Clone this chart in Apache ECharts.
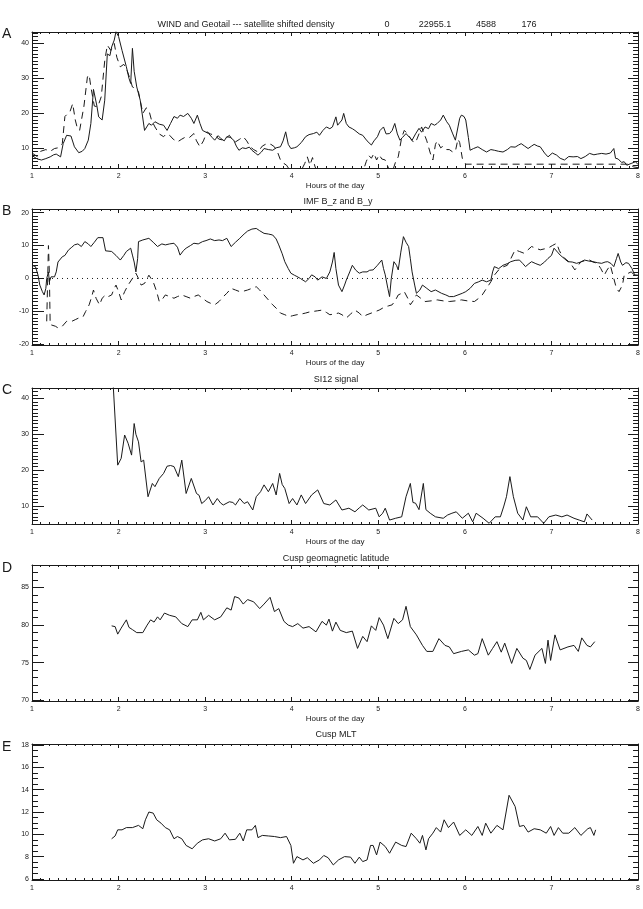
<!DOCTYPE html>
<html>
<head>
<meta charset="utf-8">
<script src="https://cdn.jsdelivr.net/npm/echarts@6/dist/echarts.min.js"></script>
<style>
html, body { margin: 0; padding: 0; background: #fff; }
#chart { width: 643px; height: 909px; }
</style>
</head>
<body>
<div id="chart"></div>
<script>
// Panel A: density (solid) and satellite shifted density (dashed), [hour, value]
const densitySolid = [
    [1.00, 7.8], [1.02, 7.4], [1.06, 6.8], [1.11, 6.5], [1.16, 6.9], [1.21, 7.4], [1.25, 8.0], [1.28, 8.2],
    [1.33, 7.4], [1.36, 11.2], [1.40, 13.6], [1.45, 13.4], [1.49, 10.3], [1.54, 8.6], [1.58, 9.0], [1.61, 9.8],
    [1.65, 12.2], [1.68, 17], [1.71, 26.8], [1.73, 26.5], [1.75, 22], [1.77, 18.9], [1.81, 18], [1.84, 23.7],
    [1.87, 37], [1.90, 36.5], [1.92, 39], [1.95, 41], [1.97, 43.4], [2.00, 42], [2.04, 38], [2.09, 33.3],
    [2.12, 30], [2.14, 28.5], [2.16, 38.6], [2.18, 32], [2.21, 27.5], [2.25, 23.7], [2.30, 15], [2.35, 17],
    [2.38, 16.5], [2.42, 17.5], [2.47, 16.8], [2.52, 16.5], [2.56, 15], [2.60, 17], [2.64, 19], [2.68, 18.5],
    [2.71, 19.4], [2.75, 19], [2.80, 19.9], [2.84, 18.5], [2.87, 17], [2.91, 19.4], [2.94, 17], [2.97, 15],
    [3.04, 14.1], [3.08, 13], [3.11, 12.2], [3.15, 13.5], [3.18, 12.7], [3.22, 12], [3.25, 13.2], [3.29, 13],
    [3.33, 12.2], [3.36, 10.5], [3.39, 9.3], [3.43, 10], [3.47, 9.8], [3.51, 10.2], [3.54, 9.3], [3.58, 8.5],
    [3.61, 7.9], [3.65, 8.8], [3.68, 9.8], [3.73, 9.5], [3.78, 9.3], [3.82, 10], [3.87, 10.3], [3.90, 12],
    [3.93, 14.6], [3.96, 11], [3.99, 9.8], [4.03, 10], [4.06, 10.3], [4.11, 11.5], [4.16, 13.2], [4.20, 13.8],
    [4.25, 14.1], [4.29, 14.5], [4.32, 13.6], [4.36, 15], [4.40, 16], [4.44, 15.5], [4.47, 16], [4.51, 18.9],
    [4.53, 16.5], [4.55, 16], [4.58, 18], [4.60, 19.9], [4.63, 17], [4.66, 16], [4.70, 15.5], [4.73, 15],
    [4.78, 14], [4.82, 13.6], [4.87, 12], [4.92, 10.8], [4.95, 12], [4.99, 13.2], [5.02, 15], [5.06, 16],
    [5.09, 14], [5.13, 14.1], [5.16, 15], [5.19, 17], [5.22, 14], [5.25, 12.2], [5.28, 13], [5.32, 14.1],
    [5.36, 13], [5.39, 12.2], [5.43, 14], [5.47, 15.6], [5.50, 14.5], [5.54, 16], [5.58, 15.5], [5.61, 17],
    [5.65, 16.5], [5.68, 17], [5.72, 18], [5.75, 19.4], [5.79, 17.5], [5.82, 16.5], [5.86, 14], [5.89, 12.2],
    [5.92, 16], [5.94, 18.5], [5.96, 19.4], [5.99, 19], [6.01, 18], [6.04, 13], [6.06, 9.3], [6.10, 9.8],
    [6.15, 10.3], [6.20, 9.5], [6.25, 8.8], [6.30, 9.5], [6.34, 9.3], [6.39, 9], [6.44, 8.8], [6.49, 9.5],
    [6.53, 10.3], [6.58, 10.2], [6.62, 10.8], [6.65, 11.2], [6.69, 10.5], [6.73, 9.8], [6.77, 10.5], [6.80, 11],
    [6.84, 10.5], [6.87, 10.3], [6.92, 8.5], [6.96, 7.4], [7.01, 8.5], [7.06, 7.9], [7.10, 7], [7.15, 6.5],
    [7.20, 7.5], [7.25, 7.4], [7.30, 7.5], [7.34, 6.9], [7.39, 7.5], [7.44, 8.4], [7.49, 8], [7.53, 8.2],
    [7.58, 8.4], [7.63, 8.2], [7.68, 8.5], [7.72, 9.8], [7.74, 7], [7.77, 6.8], [7.81, 5.8], [7.84, 6],
    [7.87, 5], [7.89, 4.5], [7.92, 5.5], [7.94, 5.8], [7.97, 6], [8.00, 5.2]
];
const densityDashed = [
    [1.00, 8.5], [1.02, 8.8], [1.06, 7.5], [1.10, 9], [1.16, 9.5], [1.21, 9], [1.26, 9.8], [1.30, 10],
    [1.35, 11.2], [1.38, 19], [1.40, 19.4], [1.44, 20.5], [1.47, 22.7], [1.50, 18], [1.52, 16], [1.55, 15],
    [1.57, 15], [1.60, 22], [1.64, 30.4], [1.66, 31], [1.68, 27.5], [1.72, 22], [1.76, 21.8], [1.80, 24.7],
    [1.84, 35], [1.87, 39.5], [1.91, 38], [1.95, 40], [1.98, 36], [2.02, 33.3], [2.06, 34], [2.09, 32.8],
    [2.13, 30], [2.16, 27.5], [2.20, 27], [2.23, 26.1], [2.28, 19.9], [2.32, 21.5], [2.35, 20.8], [2.38, 18],
    [2.42, 16], [2.47, 14], [2.52, 13.2], [2.55, 14], [2.59, 13.6], [2.63, 12.5], [2.68, 11.7], [2.73, 12.5],
    [2.78, 13.2], [2.82, 13], [2.87, 14.1], [2.90, 12], [2.94, 10.3], [2.98, 12], [3.02, 14.6], [3.06, 14],
    [3.11, 13.6], [3.16, 12.5], [3.21, 12.2], [3.25, 13], [3.28, 13.6], [3.31, 12.5], [3.35, 11.7], [3.40, 12.5],
    [3.44, 13.2], [3.48, 12], [3.52, 10.3], [3.56, 9.5], [3.61, 8.8], [3.66, 10.5], [3.71, 11.2], [3.76, 11],
    [3.80, 10.3], [3.84, 8.5], [3.87, 6.5], [3.91, 5.5], [3.94, 5], [3.98, 3.5], [4.05, 3], [4.11, 3.5],
    [4.15, 5.5], [4.18, 7.4], [4.21, 5], [4.24, 7.2], [4.27, 4.5], [4.30, 3], [4.40, 3], [4.55, 3],
    [4.70, 3], [4.82, 3], [4.86, 6], [4.89, 7.8], [4.92, 7], [4.95, 8.4], [4.98, 6.5], [5.01, 8],
    [5.04, 6.8], [5.08, 6.5], [5.12, 4], [5.16, 3], [5.20, 6], [5.23, 7.4], [5.27, 13], [5.30, 15],
    [5.34, 14], [5.39, 12], [5.43, 11.5], [5.47, 14], [5.50, 16], [5.53, 14], [5.56, 12], [5.60, 8.5],
    [5.63, 6.5], [5.66, 11], [5.68, 12], [5.72, 10], [5.75, 10.5], [5.79, 9.5], [5.82, 9.5], [5.86, 8.8],
    [5.89, 9], [5.92, 12.5], [5.94, 11.5], [5.97, 7], [6.01, 5.3], [6.50, 5.3], [7.00, 5.3], [7.50, 5.3],
    [7.90, 5.3], [7.95, 4.5], [8.00, 4.3]
];

// Panel B: IMF B_z (solid) and B_y (dashed)
const imfBz = [
    [1.00, 4], [1.04, 3.6], [1.07, 1], [1.09, -2], [1.12, -4], [1.14, -5], [1.16, -3], [1.17, 0],
    [1.19, 2], [1.20, -1], [1.22, 0.5], [1.26, 0.5], [1.28, 2], [1.30, 5], [1.35, 6.6], [1.38, 7],
    [1.42, 8.6], [1.46, 9.5], [1.49, 10.2], [1.53, 10.5], [1.57, 9.7], [1.61, 11.2], [1.65, 10.5], [1.68, 9.7],
    [1.72, 11], [1.76, 12.4], [1.82, 12.4], [1.85, 8.4], [1.92, 8.2], [1.97, 7], [2.02, 5.6], [2.06, 7],
    [2.09, 8.2], [2.14, 9.2], [2.16, 7.1], [2.18, 5], [2.20, 2], [2.22, 6], [2.23, 11.2], [2.28, 11.7],
    [2.35, 12.2], [2.40, 11], [2.45, 9.7], [2.50, 10.5], [2.54, 10.2], [2.59, 10.5], [2.64, 10.7], [2.68, 9.5],
    [2.71, 7.1], [2.75, 8.5], [2.78, 9.2], [2.83, 10], [2.87, 10.7], [2.92, 10.5], [2.97, 11.2], [3.01, 11.5],
    [3.06, 12], [3.11, 11.5], [3.16, 11.7], [3.20, 11.5], [3.25, 12.2], [3.30, 9.7], [3.35, 11], [3.40, 12.2],
    [3.45, 13.5], [3.49, 14.4], [3.54, 15], [3.59, 15.2], [3.63, 14.5], [3.68, 13.7], [3.73, 13.5], [3.78, 13.2],
    [3.82, 12], [3.85, 10.2], [3.89, 7.5], [3.92, 5.1], [3.96, 3], [3.99, 1.6], [4.03, 1], [4.06, 0.6],
    [4.10, 0], [4.13, -0.5], [4.16, -1], [4.20, 0], [4.23, 1.1], [4.27, 0.5], [4.30, -0.5], [4.35, 0.5],
    [4.40, 0], [4.44, 2], [4.47, 5], [4.49, 7.9], [4.51, 3], [4.54, -2], [4.58, -4], [4.61, -2],
    [4.63, -0.5], [4.67, 2], [4.70, 4], [4.74, 2.5], [4.78, 1.6], [4.82, 2], [4.87, 2], [4.90, 2.5],
    [4.94, 2.6], [4.99, 4], [5.04, 5.6], [5.06, 3], [5.08, 1.1], [5.11, -3], [5.13, -5.5], [5.15, 0],
    [5.18, 5.1], [5.21, 4], [5.23, 2.6], [5.26, 8], [5.29, 12.7], [5.32, 11], [5.35, 9.7], [5.37, 6],
    [5.39, 2], [5.42, -2], [5.44, -4.5], [5.48, -3.5], [5.51, -2], [5.56, -3], [5.61, -4], [5.66, -3.5],
    [5.73, -4.5], [5.78, -5], [5.82, -5.5], [5.87, -5.5], [5.92, -5], [5.97, -4.5], [6.01, -4], [6.06, -3],
    [6.11, -1.5], [6.16, -1], [6.20, -0.5], [6.25, -1], [6.30, -0.5], [6.32, 2], [6.34, 3.6], [6.39, 3],
    [6.44, 4], [6.49, 4.5], [6.53, 5.1], [6.58, 5.5], [6.63, 5.6], [6.67, 4.5], [6.70, 3.6], [6.74, 4.5],
    [6.77, 5.1], [6.82, 4.5], [6.87, 4], [6.92, 5], [6.96, 6.1], [7.00, 7], [7.03, 9.2], [7.07, 8],
    [7.10, 7.1], [7.15, 6], [7.19, 5.1], [7.24, 5], [7.29, 4.6], [7.34, 5], [7.38, 5.6], [7.43, 5.3],
    [7.48, 5.1], [7.53, 4.8], [7.58, 4.6], [7.62, 5], [7.65, 5.1], [7.69, 4.5], [7.72, 3.6], [7.75, 6],
    [7.77, 7.6], [7.80, 5], [7.82, 4], [7.86, 4.8], [7.89, 4.6], [7.93, 3], [7.96, 1.1], [8.00, 1]
];
const imfBy = [
    [1.17, -13], [1.19, 10], [1.20, 2], [1.21, -14], [1.23, -13.5], [1.27, -14.5], [1.30, -15], [1.35, -14.5],
    [1.40, -13], [1.42, -12.6], [1.46, -13], [1.50, -12.5], [1.54, -12], [1.59, -11.6], [1.62, -10], [1.66, -8],
    [1.69, -5.5], [1.71, -3.5], [1.74, -6], [1.78, -8], [1.81, -6], [1.85, -5], [1.88, -5.5], [1.92, -5],
    [1.95, -3], [1.97, -2], [2.00, -4], [2.03, -6.5], [2.07, -4], [2.11, -2], [2.16, 0], [2.20, 1.6],
    [2.23, 0], [2.26, -2], [2.30, -1.5], [2.35, 1], [2.40, -1], [2.44, -4], [2.47, -7], [2.50, -6.5],
    [2.54, -5], [2.59, -5.5], [2.64, -6], [2.68, -5.5], [2.73, -5], [2.78, -5.5], [2.83, -6], [2.87, -5.5],
    [2.92, -5], [2.97, -6], [3.02, -7], [3.06, -7.5], [3.11, -8], [3.16, -7], [3.21, -5.5], [3.25, -4.5],
    [3.30, -3], [3.35, -3.5], [3.40, -4], [3.45, -3.8], [3.49, -3.5], [3.54, -3], [3.59, -2.5], [3.63, -3.5],
    [3.68, -5], [3.73, -6.5], [3.78, -8], [3.82, -9], [3.87, -10.5], [3.92, -11], [3.97, -11.6], [4.01, -11.3],
    [4.06, -11], [4.11, -10.8], [4.16, -10.5], [4.20, -10.2], [4.25, -10], [4.30, -9.8], [4.35, -9.6], [4.40, -10.3],
    [4.44, -11], [4.49, -10.8], [4.54, -10.5], [4.58, -11], [4.63, -12], [4.68, -10.8], [4.73, -9.6], [4.78, -10.5],
    [4.82, -11.6], [4.87, -11], [4.92, -10.5], [4.97, -10], [5.01, -9.6], [5.05, -9], [5.08, -8.6], [5.12, -8.3],
    [5.16, -8], [5.20, -6.5], [5.23, -5], [5.27, -4.5], [5.30, -4], [5.34, -6], [5.37, -8], [5.41, -6.5],
    [5.44, -5], [5.49, -6], [5.54, -7], [5.61, -6.8], [5.68, -6.5], [5.75, -6.8], [5.82, -7], [5.89, -6.8],
    [5.96, -6.5], [6.03, -6.8], [6.11, -7], [6.16, -6], [6.20, -5], [6.25, -3], [6.30, -1], [6.34, 1],
    [6.39, 2.6], [6.44, 3.5], [6.49, 4], [6.53, 6], [6.58, 8.7], [6.63, 8.2], [6.68, 7.7], [6.72, 8.5],
    [6.77, 9.7], [6.82, 9.2], [6.87, 8.7], [6.92, 9], [6.96, 9.2], [7.01, 10], [7.06, 10.7], [7.09, 8.5],
    [7.13, 6.6], [7.17, 5.8], [7.20, 5.1], [7.24, 3.8], [7.27, 2.6], [7.31, 4], [7.34, 5.1], [7.39, 5.4],
    [7.44, 5.6], [7.48, 5], [7.53, 4.6], [7.57, 3], [7.61, 1], [7.64, 2.5], [7.68, 4], [7.72, 0],
    [7.75, -3], [7.78, -4], [7.80, -4.5], [7.82, -2], [7.84, 1], [7.88, 1.5], [7.92, 2], [7.96, 1],
    [8.00, 0]
];

// Panel C: SI12 signal
const si12Signal = [
    [1.90, 60], [1.99, 21.4], [2.03, 23.3], [2.07, 29.8], [2.11, 27.5], [2.15, 24.2], [2.18, 33], [2.20, 30],
    [2.23, 27.9], [2.26, 22.3], [2.29, 22.8], [2.34, 12.6], [2.39, 16.3], [2.42, 15.4], [2.47, 17.7], [2.52, 19.1],
    [2.56, 21.1], [2.60, 21.3], [2.64, 21], [2.69, 18.2], [2.73, 22.8], [2.78, 13.5], [2.84, 17.7], [2.90, 13.5],
    [2.93, 13], [2.96, 10.7], [3.00, 11.5], [3.04, 12.6], [3.09, 10.3], [3.14, 12.1], [3.18, 10.8], [3.21, 10.3],
    [3.28, 11.2], [3.32, 11], [3.35, 10.3], [3.40, 12.1], [3.45, 10.7], [3.49, 11.2], [3.55, 8.9], [3.59, 12.6],
    [3.64, 14], [3.68, 15.9], [3.73, 14], [3.78, 16.3], [3.82, 13.1], [3.86, 19.1], [3.89, 16], [3.92, 14.9],
    [3.97, 10.7], [4.01, 12.1], [4.06, 10.3], [4.11, 13.1], [4.16, 10.7], [4.23, 13.1], [4.30, 14.5], [4.37, 10.7],
    [4.44, 10.3], [4.51, 11.7], [4.58, 8.9], [4.66, 9.4], [4.73, 8.4], [4.78, 9.5], [4.82, 10.3], [4.89, 8.9],
    [4.97, 9.4], [5.01, 7], [5.05, 8], [5.08, 9.4], [5.13, 6.1], [5.20, 6.6], [5.27, 7], [5.32, 12.6],
    [5.37, 16.3], [5.40, 11], [5.43, 10.8], [5.47, 9.0], [5.49, 9.5], [5.52, 16.3], [5.55, 9], [5.60, 8],
    [5.66, 7], [5.75, 6.6], [5.80, 7.5], [5.85, 8], [5.90, 8.4], [5.97, 6.6], [6.04, 8], [6.09, 5.6],
    [6.13, 8], [6.21, 6.6], [6.28, 5.2], [6.35, 7], [6.41, 7], [6.45, 10], [6.48, 12.6], [6.52, 18.2],
    [6.56, 12.6], [6.61, 8], [6.67, 6.1], [6.71, 9.8], [6.76, 7], [6.84, 7], [6.91, 5.2], [6.97, 7],
    [7.05, 7.5], [7.12, 7], [7.18, 7.5], [7.26, 6.6], [7.32, 6.1], [7.38, 5.6], [7.41, 7.8], [7.47, 6.1]
];

// Panel D: cusp geomagnetic latitude
const cuspLatitude = [
    [1.92, 79.9], [1.96, 79.8], [1.99, 78.8], [2.03, 79.6], [2.09, 80.7], [2.12, 79.7], [2.16, 79.4], [2.21, 79],
    [2.28, 79], [2.33, 80], [2.37, 80.7], [2.41, 80.4], [2.45, 81.1], [2.48, 80.7], [2.53, 81.6], [2.59, 81.3],
    [2.66, 81.1], [2.73, 80.2], [2.80, 79.8], [2.85, 80.7], [2.91, 80.7], [2.95, 81.7], [2.98, 80.7], [3.04, 81.3],
    [3.11, 80.7], [3.18, 81.1], [3.25, 82.3], [3.30, 82], [3.34, 83.8], [3.39, 83.6], [3.44, 82.8], [3.49, 83.4],
    [3.56, 83.1], [3.63, 82.2], [3.68, 82.8], [3.75, 83.7], [3.80, 81.8], [3.85, 82.2], [3.91, 80.5], [3.96, 80],
    [4.01, 79.8], [4.07, 80.2], [4.13, 79.6], [4.20, 79.8], [4.28, 79.1], [4.35, 80.5], [4.40, 80], [4.43, 80.8],
    [4.47, 79.2], [4.51, 80.4], [4.56, 79.3], [4.63, 79], [4.70, 79.2], [4.76, 76.9], [4.82, 78.5], [4.87, 77.8],
    [4.92, 79.9], [4.97, 79.3], [5.01, 81], [5.06, 80], [5.11, 78.2], [5.18, 80.9], [5.23, 80.2], [5.28, 80.7],
    [5.32, 82.5], [5.37, 79.8], [5.44, 78.7], [5.51, 77.3], [5.56, 76.5], [5.63, 76.5], [5.70, 78.2], [5.77, 77.3],
    [5.82, 77.1], [5.87, 76.2], [5.96, 76.5], [6.04, 76.7], [6.11, 76], [6.15, 76.2], [6.20, 78.2], [6.27, 76],
    [6.32, 76.9], [6.37, 77.8], [6.42, 76.4], [6.46, 77.6], [6.54, 74.9], [6.60, 76.9], [6.67, 75.6], [6.71, 75.3],
    [6.75, 74.1], [6.81, 76], [6.89, 76.9], [6.93, 74.9], [6.96, 78], [6.99, 75.3], [7.04, 78.7], [7.10, 76.7],
    [7.19, 77.1], [7.26, 77.3], [7.31, 76.5], [7.35, 78.3], [7.41, 77.3], [7.45, 77.1], [7.50, 77.8]
];

// Panel E: cusp MLT
const cuspMlt = [
    [1.92, 9.6], [1.96, 9.85], [1.99, 10.4], [2.04, 10.4], [2.09, 10.6], [2.16, 10.6], [2.23, 10.8], [2.28, 10.5],
    [2.31, 11.3], [2.35, 12], [2.40, 11.9], [2.44, 11.3], [2.49, 11], [2.54, 10.6], [2.59, 10.4], [2.64, 9.6],
    [2.68, 9.8], [2.73, 9.6], [2.78, 9], [2.85, 8.7], [2.91, 9.2], [2.97, 9.5], [3.04, 9.6], [3.11, 9.4],
    [3.18, 9.6], [3.23, 10.1], [3.28, 9.5], [3.35, 9.55], [3.40, 10.1], [3.44, 9.4], [3.48, 10.4], [3.54, 10.4],
    [3.58, 10.8], [3.61, 9.7], [3.66, 9.9], [3.73, 9.85], [3.80, 9.8], [3.87, 9.7], [3.94, 9.8], [3.99, 9],
    [4.02, 7.4], [4.06, 8], [4.13, 7.7], [4.18, 7.9], [4.25, 7.4], [4.32, 7.7], [4.37, 8.1], [4.42, 7.9],
    [4.48, 7.25], [4.54, 7.7], [4.61, 8], [4.68, 7.95], [4.73, 7.4], [4.78, 7.95], [4.82, 7.55], [4.87, 7.7],
    [4.91, 9], [4.94, 9], [4.98, 8.15], [5.02, 9.3], [5.08, 8.9], [5.13, 8.3], [5.20, 9.3], [5.27, 9],
    [5.32, 8.9], [5.38, 10.1], [5.44, 9.6], [5.48, 9.2], [5.51, 9.9], [5.55, 8.6], [5.58, 9.6], [5.63, 10.1],
    [5.67, 10.6], [5.72, 10.2], [5.76, 11.3], [5.81, 10.6], [5.87, 11.1], [5.94, 9.9], [6.01, 10.4], [6.08, 9.9],
    [6.15, 10.7], [6.20, 9.9], [6.24, 11], [6.30, 10.1], [6.37, 10.8], [6.44, 10.4], [6.51, 13.5], [6.58, 12.5],
    [6.63, 10.7], [6.68, 10.8], [6.73, 10.2], [6.80, 10.5], [6.87, 10.4], [6.94, 10.1], [6.99, 10.7], [7.03, 9.9],
    [7.08, 10.6], [7.13, 10.1], [7.20, 10.1], [7.27, 10.6], [7.34, 9.9], [7.42, 10.5], [7.45, 10.6], [7.49, 9.9],
    [7.51, 10.4]
];

const hourLabels = [1, 2, 3, 4, 5, 6, 7, 8];

// layout of the five stacked panels
const panels = [
    { top: 32, min: 4.2, max: 43.3, labels: [10, 20, 30, 40], minorStep: 1, xName: 'Hours of the day' },
    { top: 209, min: -20.2, max: 21.1, labels: [-20, -10, 0, 10, 20], minorStep: 1, xName: 'Hours of the day' },
    { top: 388, min: 5, max: 42.9, labels: [10, 20, 30, 40], minorStep: 1, xName: 'Hours of the day' },
    { top: 565, min: 69.9, max: 88, labels: [70, 75, 80, 85], minorStep: 1, xName: 'Hours of the day' },
    { top: 744, min: 5.9, max: 18.1, labels: [6, 8, 10, 12, 14, 16, 18], minorStep: 0.5, xName: '' }
];

const ink = '#1a1a1a';
const font = 'Liberation Sans, DejaVu Sans, sans-serif';

function tickList(p) {
    const list = [];
    for (let v = Math.ceil(p.min / p.minorStep) * p.minorStep; v <= p.max + 1e-9; v += p.minorStep) {
        list.push(Math.round(v * 100) / 100);
    }
    return list;
}

const grids = [];
const xAxes = [];
const yAxes = [];

panels.forEach((p, i) => {
    grids.push({ left: 32, right: 4, top: p.top, height: 136 });
    const xBase = {
        type: 'value',
        gridIndex: i,
        min: 1,
        max: 8,
        interval: 1,
        splitLine: { show: false },
        axisLine: { onZero: false, lineStyle: { color: ink, width: 1 } },
        axisTick: { inside: true, length: 4, lineStyle: { color: ink } },
        minorTick: { show: true, splitNumber: 10, length: 2, lineStyle: { color: ink } }
    };
    xAxes.push(Object.assign({}, xBase, {
        position: 'bottom',
        name: p.xName,
        nameLocation: 'middle',
        nameGap: 14,
        nameTextStyle: { fontSize: 8, color: ink, fontFamily: font },
        axisLabel: {
            fontSize: 7,
            color: ink,
            margin: 5,
            fontFamily: font,
            customValues: hourLabels
        }
    }));
    xAxes.push(Object.assign({}, xBase, {
        position: 'top',
        axisLabel: { show: false }
    }));

    const minors = tickList(p);
    const yBase = {
        type: 'value',
        gridIndex: i,
        min: p.min,
        max: p.max,
        splitLine: { show: false }
    };
    // left: labelled major ticks
    yAxes.push(Object.assign({}, yBase, {
        position: 'left',
        axisLine: { show: true, onZero: false, lineStyle: { color: ink, width: 1 } },
        axisTick: { show: true, inside: true, length: 12, customValues: p.labels, lineStyle: { color: ink } },
        axisLabel: { fontSize: 7, color: ink, margin: 3, fontFamily: font, customValues: p.labels }
    }));
    // left: minor ticks
    yAxes.push(Object.assign({}, yBase, {
        position: 'left',
        axisLine: { show: false, onZero: false },
        axisTick: { show: true, inside: true, length: 6, customValues: minors, lineStyle: { color: ink } },
        axisLabel: { show: false }
    }));
    // right: major ticks
    yAxes.push(Object.assign({}, yBase, {
        position: 'right',
        axisLine: { show: true, onZero: false, lineStyle: { color: ink, width: 1 } },
        axisTick: { show: true, inside: true, length: 10, customValues: p.labels, lineStyle: { color: ink } },
        axisLabel: { show: false }
    }));
    // right: minor ticks
    yAxes.push(Object.assign({}, yBase, {
        position: 'right',
        axisLine: { show: false, onZero: false },
        axisTick: { show: true, inside: true, length: 5, customValues: minors, lineStyle: { color: ink } },
        axisLabel: { show: false }
    }));
});

function lineSeries(name, panel, data, dash) {
    return {
        name: name,
        type: 'line',
        xAxisIndex: panel * 2,
        yAxisIndex: panel * 4,
        data: data,
        showSymbol: false,
        symbol: 'none',
        lineStyle: { color: ink, width: 1, type: dash || 'solid' },
        emphasis: { disabled: true }
    };
}

// dotted zero level of panel B, spanning the hour axis
const zeroLevel = [[hourLabels[0], 0], [hourLabels[hourLabels.length - 1], 0]];

function text(str, x, y, size, align) {
    return {
        type: 'text',
        x: x,
        y: y,
        style: {
            text: str,
            fill: ink,
            font: size + 'px ' + font,
            textAlign: align || 'center',
            textVerticalAlign: 'middle'
        }
    };
}

const chart = echarts.init(document.getElementById('chart'));
chart.setOption({
    animation: false,
    backgroundColor: '#fff',
    grid: grids,
    xAxis: xAxes,
    yAxis: yAxes,
    series: [
        lineSeries('density', 0, densitySolid),
        lineSeries('satellite shifted density', 0, densityDashed, [7, 5]),
        lineSeries('zero', 1, zeroLevel, [1, 4]),
        lineSeries('B_z', 1, imfBz),
        lineSeries('B_y', 1, imfBy, [7, 5]),
        lineSeries('SI12 signal', 2, si12Signal),
        lineSeries('Cusp geomagnetic latitude', 3, cuspLatitude),
        lineSeries('Cusp MLT', 4, cuspMlt)
    ],
    graphic: [
        text('WIND and Geotail --- satellite shifted density', 246, 25, 9),
        text('0', 387, 25, 9),
        text('22955.1', 435, 25, 9),
        text('4588', 486, 25, 9),
        text('176', 529, 25, 9),
        text('IMF B_z and B_y', 338, 202, 9),
        text('SI12 signal', 336, 380, 9),
        text('Cusp geomagnetic latitude', 336, 559, 9),
        text('Cusp MLT', 336, 735, 9),
        text('A', 2, 34, 14, 'left'),
        text('B', 2, 211, 14, 'left'),
        text('C', 2, 390, 14, 'left'),
        text('D', 2, 568, 14, 'left'),
        text('E', 2, 747, 14, 'left')
    ]
});
</script>
</body>
</html>
